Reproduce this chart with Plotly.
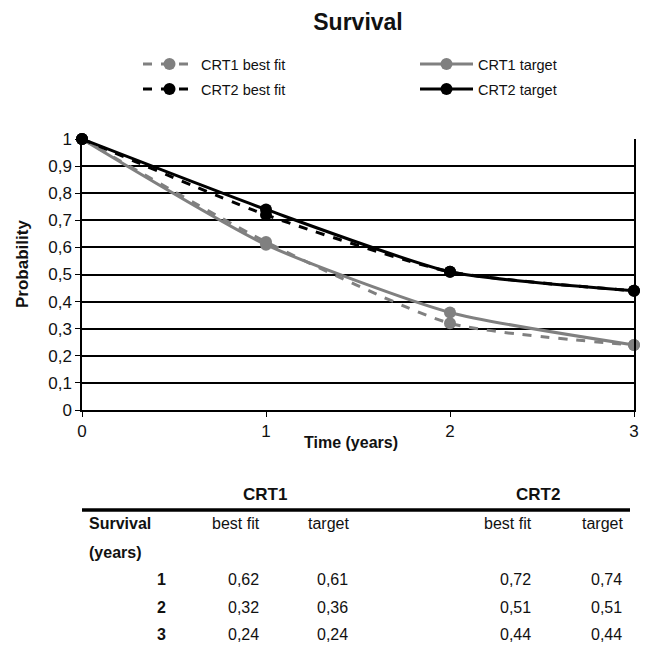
import plotly.graph_objects as go

years = [0, 1, 2, 3]
crt1_best = [1.0, 0.62, 0.32, 0.24]
crt1_target = [1.0, 0.61, 0.36, 0.24]
crt2_best = [1.0, 0.72, 0.51, 0.44]
crt2_target = [1.0, 0.74, 0.51, 0.44]

y_ticks = [0, 0.1, 0.2, 0.3, 0.4, 0.5, 0.6, 0.7, 0.8, 0.9, 1.0]
y_tick_labels = ["0", "0,1", "0,2", "0,3", "0,4", "0,5", "0,6", "0,7", "0,8", "0,9", "1"]

table_years = ["1", "2", "3"]

FONT = "Liberation Sans, Arial, sans-serif"
GRAY = "#808080"
BLACK = "#000000"
TXT = "#111111"

OFF = 8  # page body margin
W, H = 649 - OFF, 647 - OFF
L, R, T, B = 82, 634, 139, 410  # plot area in reference pixels


def px(x):
    return (x - L) / (R - L)


def py(y):
    return (B - y) / (B - T)


def cy(y):
    return 1 - (y - OFF) / H


def cx(x):
    return (x - OFF) / W


def fmt(v):
    return f"{v:.2f}".replace(".", ",")


fig = go.Figure()
series = [
    ("CRT1 best fit", crt1_best, GRAY, "dash", "legend"),
    ("CRT1 target", crt1_target, GRAY, "solid", "legend2"),
    ("CRT2 best fit", crt2_best, BLACK, "dash", "legend3"),
    ("CRT2 target", crt2_target, BLACK, "solid", "legend4"),
]
for name, vals, col, dash, leg in series:
    fig.add_trace(go.Scatter(
        x=years, y=vals, name=name, mode="lines+markers", legend=leg, showlegend=True,
        line=dict(color=col, width=3, dash=dash, shape="spline", smoothing=0.6),
        marker=dict(color=col, size=12, symbol="circle"),
        cliponaxis=False,
    ))

annotations = []
shapes = []


def ann(x, y, text, size, anchor="center", angle=0):
    annotations.append(dict(x=px(x), y=py(y), text=text, showarrow=False, xanchor=anchor,
                            yanchor="middle", textangle=angle, xref="paper", yref="paper",
                            font=dict(size=size, family=FONT, color=TXT)))


# axis titles
ann(351, 442, "<b>Time (years)</b>", 16)
ann(22, 264, "<b>Probability</b>", 17, angle=-90)

# table
ann(265, 494, "<b>CRT1</b>", 17)
ann(538, 494, "<b>CRT2</b>", 17)
shapes.append(dict(type="line", xref="paper", yref="paper", x0=px(82), x1=px(630),
                   y0=py(510), y1=py(510), line=dict(color="#000", width=3.5)))

col_right = [262, 351, 534, 625]
col_heads = ["best fit", "target", "best fit", "target"]
for xr, h in zip(col_right, col_heads):
    ann(xr, 523, h, 16, anchor="right")
ann(87, 523, "<b>Survival</b>", 16, anchor="left")
ann(87, 552, "<b>(years)</b>", 16, anchor="left")

row_y = [579, 607, 634]
cols = [crt1_best, crt1_target, crt2_best, crt2_target]
for i, (yr, ry) in enumerate(zip(table_years, row_y)):
    ann(168, ry, f"<b>{yr}</b>", 16, anchor="right")
    for xr, c in zip(col_right, cols):
        ann(xr - 1, ry, fmt(c[i + 1]), 16, anchor="right")


def leg(x, y):
    return dict(orientation="h", xref="container", yref="container",
                x=cx(x), y=cy(y), xanchor="left", yanchor="middle",
                itemwidth=53, font=dict(size=14.5, family=FONT, color=TXT),
                bgcolor="rgba(0,0,0,0)", visible=True)


fig.update_layout(
    width=W, height=H,
    showlegend=True,
    margin=dict(l=L - OFF, r=W - (R - OFF), t=T - OFF, b=H - (B - OFF), autoexpand=False),
    paper_bgcolor="white", plot_bgcolor="white",
    font=dict(family=FONT, size=15, color=TXT),
    title=dict(text="<b>Survival</b>", x=cx(358), xref="container", xanchor="center",
               y=cy(22), yref="container", yanchor="middle",
               font=dict(size=23, family=FONT, color=TXT)),
    legend=leg(138, 64),
    legend2=leg(415, 64),
    legend3=leg(138, 89),
    legend4=leg(415, 89),
    xaxis=dict(range=[0, 3], tickvals=years, ticktext=[str(v) for v in years],
               showgrid=False, zeroline=False, showline=True, linecolor="#000", linewidth=1.5,
               ticks="outside", ticklen=5, tickcolor="#000", tickfont=dict(size=17)),
    yaxis=dict(range=[0, 1], tickvals=y_ticks, ticktext=y_tick_labels,
               showgrid=True, gridcolor="#000", gridwidth=1.5, zeroline=False,
               showline=True, linecolor="#000", linewidth=1.5, mirror=True,
               ticks="outside", ticklen=5, tickcolor="#000", tickfont=dict(size=17)),
    annotations=annotations,
    shapes=shapes,
)

fig.write_html("out.html")
